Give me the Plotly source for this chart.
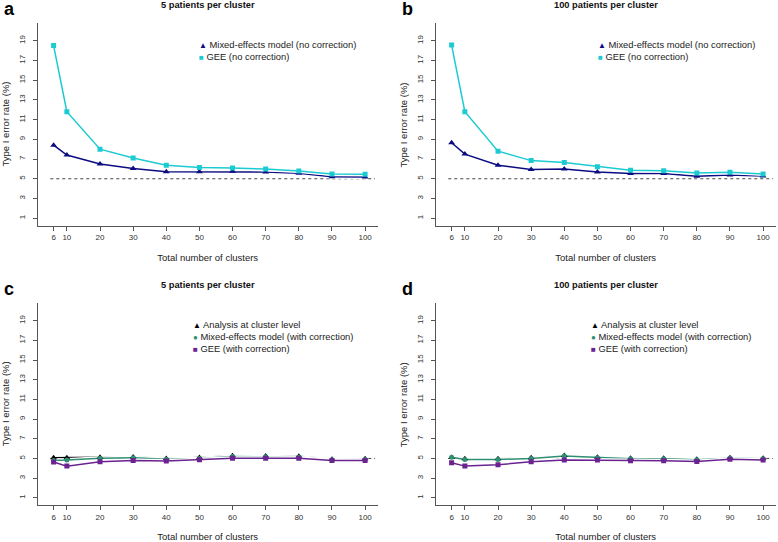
import plotly.graph_objects as go

clusters = [6, 10, 20, 30, 40, 50, 60, 70, 80, 90, 100]
y_ticks = [1, 3, 5, 7, 9, 11, 13, 15, 17, 19]
nominal = [5, 5]
nominal_x = [5, 103]

# panel a: 5 patients per cluster, no correction
a_mem = [8.4, 7.4, 6.5, 6.05, 5.72, 5.72, 5.75, 5.68, 5.55, 5.2, 5.17]
a_gee = [18.5, 11.8, 8.0, 7.1, 6.37, 6.15, 6.08, 5.98, 5.78, 5.47, 5.45]
# panel b: 100 patients per cluster, no correction
b_mem = [8.65, 7.5, 6.37, 5.95, 6.0, 5.68, 5.52, 5.52, 5.25, 5.37, 5.28]
b_gee = [18.55, 11.8, 7.8, 6.84, 6.64, 6.22, 5.86, 5.81, 5.58, 5.65, 5.48]
# panel c: 5 patients per cluster, with correction
c_clu = [5.07, 5.07, 5.13, 5.15, 5.0, 5.1, 5.27, 5.25, 5.22, 4.93, 4.97]
c_mem = [4.8, 4.83, 5.03, 5.07, 4.93, 5.0, 5.2, 5.17, 5.13, 4.86, 4.9]
c_gee = [4.63, 4.22, 4.66, 4.8, 4.73, 4.86, 5.03, 5.03, 5.03, 4.8, 4.8]
# panel d: 100 patients per cluster, with correction
d_clu = [5.1, 4.97, 4.97, 5.07, 5.3, 5.13, 5.03, 5.03, 4.93, 5.07, 5.03]
d_mem = [5.13, 4.9, 4.9, 5.0, 5.24, 5.07, 4.97, 4.97, 4.86, 5.03, 4.97]
d_gee = [4.56, 4.22, 4.36, 4.66, 4.83, 4.83, 4.76, 4.76, 4.7, 4.93, 4.83]

titles = ["5 patients per cluster", "100 patients per cluster",
          "5 patients per cluster", "100 patients per cluster"]
letters = ["a", "b", "c", "d"]
x_title = "Total number of clusters"
y_title = "Type I error rate (%)"
names_top = ["Mixed-effects model (no correction)", "GEE (no correction)"]
names_bot = ["Analysis at cluster level", "Mixed-effects model (with correction)",
             "GEE (with correction)"]

NAVY = "#0c0c82"
CYAN = "#1ccbd2"
BLACK = "#000000"
GREEN = "#2f8f72"
PURPLE = "#6a2390"

W, H = 778, 542
FONT = "Liberation Sans"

# panel plot areas in pixels (left, right, top, bottom)
boxes = [(37.7, 377.7, 23.3, 225.7), (435.7, 775.7, 23.3, 225.7),
         (37.7, 377.7, 303.3, 505.3), (435.7, 775.7, 303.3, 505.3)]

panels = [
    [(a_mem, NAVY, "triangle-up", 6, "▲", names_top[0]),
     (a_gee, CYAN, "square", 5, "■", names_top[1])],
    [(b_mem, NAVY, "triangle-up", 6, "▲", names_top[0]),
     (b_gee, CYAN, "square", 5, "■", names_top[1])],
    [(c_clu, BLACK, "triangle-up", 6, "▲", names_bot[0]),
     (c_mem, GREEN, "circle", 5, "●", names_bot[1]),
     (c_gee, PURPLE, "square", 5, "■", names_bot[2])],
    [(d_clu, BLACK, "triangle-up", 6, "▲", names_bot[0]),
     (d_mem, GREEN, "circle", 5, "●", names_bot[1]),
     (d_gee, PURPLE, "square", 5, "■", names_bot[2])],
]

# legend block: left x (px), vertical centre (px)
legend_pos = [(196.5, 51.0), (596.0, 51.0), (191.0, 336.1), (588.5, 336.1)]

fig = go.Figure()
layout = dict(width=W, height=H, margin=dict(l=0, r=0, t=0, b=0),
              paper_bgcolor="white", plot_bgcolor="white", showlegend=False,
              font=dict(family=FONT, size=9, color="#222"))
annotations = []

for i, (box, series) in enumerate(zip(boxes, panels)):
    l, r, t, b = box
    sfx = "" if i == 0 else str(i + 1)
    xa, ya = "x" + sfx, "y" + sfx
    fig.add_trace(go.Scatter(x=nominal_x, y=nominal, mode="lines", xaxis=xa, yaxis=ya,
                             line=dict(color="#444", width=1, dash="dot"),
                             hoverinfo="skip"))
    for vals, col, sym, sz, glyph, name in series:
        fig.add_trace(go.Scatter(x=clusters, y=vals, mode="lines", xaxis=xa, yaxis=ya,
                                 line=dict(color="white", width=4), hoverinfo="skip"))
        fig.add_trace(go.Scatter(x=clusters, y=vals, mode="lines", xaxis=xa, yaxis=ya,
                                 line=dict(color=col, width=1.5), hoverinfo="skip"))
    for vals, col, sym, sz, glyph, name in series:
        fig.add_trace(go.Scatter(x=clusters, y=vals, mode="markers", xaxis=xa, yaxis=ya,
                                 marker=dict(color=col, symbol=sym, size=sz, line=dict(width=0)),
                                 name=name))
    axis_common = dict(showline=True, linecolor="#555", linewidth=1, ticks="outside",
                       ticklen=4, tickcolor="#555", showgrid=False, zeroline=False,
                       automargin=False, tickfont=dict(size=8, color="#333", family=FONT))
    layout["xaxis" + sfx] = dict(axis_common, domain=[l / W, r / W], anchor=ya,
                                 range=[1.2, 103.8], tickvals=clusters,
                                 title=dict(text=x_title, standoff=13,
                                            font=dict(size=9.5, color="#222")))
    layout["yaxis" + sfx] = dict(axis_common, domain=[1 - b / H, 1 - t / H], anchor=xa,
                                 range=[0.24, 20.76], tickvals=y_ticks, tickangle=-90,
                                 ticklabelstandoff=5)
    # y-axis title (rotated text placed like R's mtext)
    annotations.append(dict(text=y_title, x=(l - 32.7) / W, y=1 - (t + b) / 2 / H,
                            xref="paper", yref="paper", showarrow=False, textangle=-90,
                            xanchor="center", yanchor="middle",
                            font=dict(size=9.5, color="#222", family=FONT)))
    lx, ly = legend_pos[i]
    lines = ["<span style='color:%s;font-size:8px'>%s</span> %s" % (s[1], s[4], s[5])
             for s in series]
    annotations.append(dict(text="<br>".join(lines), x=lx / W, y=1 - ly / H,
                            xref="paper", yref="paper", showarrow=False,
                            xanchor="left", yanchor="middle", align="left",
                            font=dict(size=9.4, color="#222", family=FONT)))
    annotations.append(dict(text="<b>%s</b>" % titles[i], x=(l + r) / 2 / W,
                            y=1 - (t - 18) / H, xref="paper", yref="paper",
                            showarrow=False, xanchor="center", yanchor="middle",
                            font=dict(size=9.3, color="#111", family=FONT)))
    annotations.append(dict(text="<b>%s</b>" % letters[i], x=(l - 36) / W,
                            y=1 - (t - 14) / H, xref="paper", yref="paper",
                            showarrow=False, xanchor="left", yanchor="middle",
                            font=dict(size=18, color="#000", family=FONT)))

layout["annotations"] = annotations
fig.update_layout(**layout)
fig.write_html("out.html", config={"displayModeBar": False},
               post_script="document.body.style.margin='0px';")
